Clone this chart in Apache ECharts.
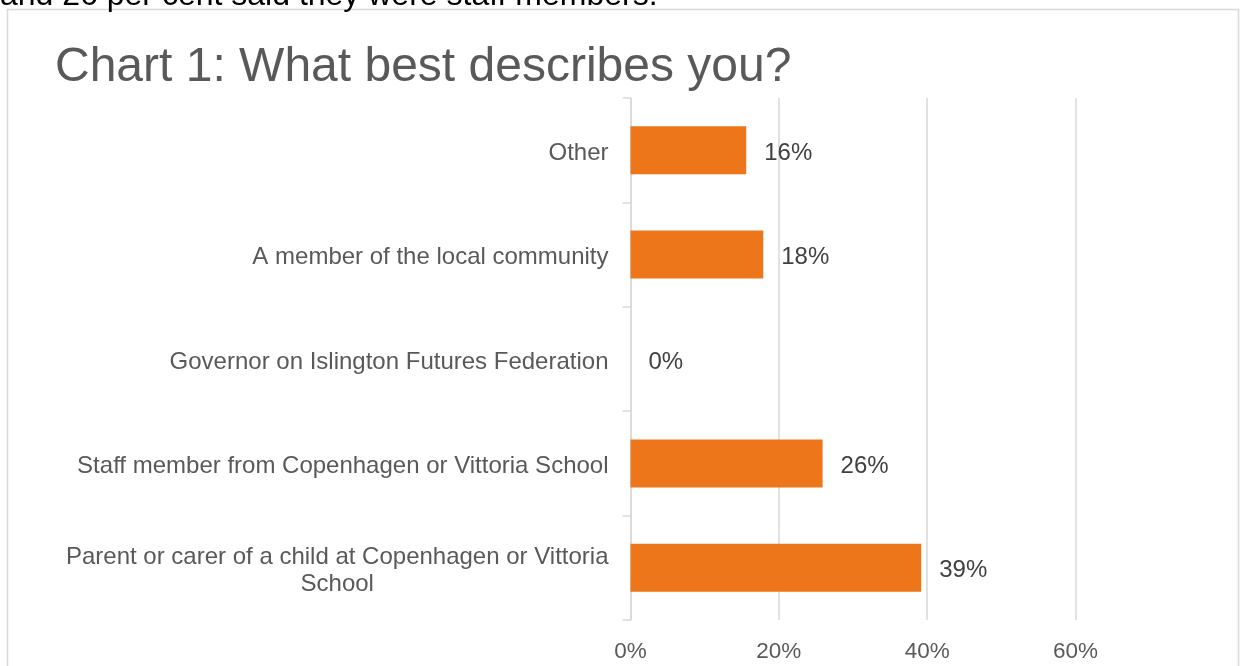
<!DOCTYPE html>
<html>
<head>
<meta charset="utf-8">
<script src="https://cdn.jsdelivr.net/npm/echarts@6/dist/echarts.min.js"></script>
<style>
html,body{margin:0;padding:0;background:#fff;}
#chart{width:1240px;height:666px;}
</style>
</head>
<body>
<div id="chart"></div>
<script>
// Data (top to bottom as shown)
const categories = [
  'Other',
  'A member of the local community',
  'Governor on Islington Futures Federation',
  'Staff member from Copenhagen or Vittoria School',
  'Parent or carer of a child at Copenhagen or Vittoria School'
];
const values = [0.156, 0.179, 0, 0.259, 0.392];
const xTicks = [0, 0.2, 0.4, 0.6];
const titleText = 'Chart 1: What best describes you?';
const introText = 'and 26 per cent said they were staff members.';

const FONT = '"Liberation Sans", Arial, sans-serif';
const chart = echarts.init(document.getElementById('chart'));

function wrapLabel(v) {
  if (v.length > 50) {
    const i = v.lastIndexOf(' ');
    return v.slice(0, i) + '\n' + v.slice(i + 1);
  }
  return v;
}

chart.setOption({
  animation: false,
  backgroundColor: '#ffffff',
  textStyle: { fontFamily: FONT },
  graphic: [
    {
      type: 'rect', silent: true,
      shape: { x: 7.5, y: 9.5, width: 1231, height: 700 },
      style: { fill: 'none', stroke: '#d9d9d9', lineWidth: 1.5 }
    },
    {
      type: 'text', silent: true, x: 0, y: -4,
      style: { text: introText, font: '32px ' + FONT, fill: '#000000', verticalAlign: 'middle', align: 'left' }
    },
    {
      type: 'text', silent: true, x: 55, y: 68,
      style: { text: titleText, font: '48px ' + FONT, fill: '#595959', verticalAlign: 'middle', align: 'left' }
    }
  ],
  grid: { left: 630.5, right: 164.5, top: 98, bottom: 46, containLabel: false },
  xAxis: {
    type: 'value', min: xTicks[0], max: xTicks[xTicks.length - 1], interval: 0.2,
    axisLine: { show: false },
    axisTick: { show: false },
    splitLine: { show: true, lineStyle: { color: '#d9d9d9', width: 1.5 } },
    axisLabel: {
      margin: 20, fontSize: 22.5, color: '#595959', fontFamily: FONT,
      formatter: v => Math.round(v * 100) + '%'
    }
  },
  yAxis: {
    type: 'category', data: categories, inverse: true,
    axisLine: { show: true, lineStyle: { color: '#d9d9d9', width: 1.5 } },
    axisTick: { show: true, length: 8, lineStyle: { color: '#d9d9d9', width: 1.5 } },
    axisLabel: {
      margin: 22, fontSize: 24, color: '#595959', fontFamily: FONT,
      formatter: v => '{c|' + wrapLabel(v) + '}',
      rich: { c: { align: 'center', fontSize: 24, color: '#595959', fontFamily: FONT, lineHeight: 27, padding: [6, 0, 0, 0] } }
    }
  },
  series: [{
    type: 'bar', data: values, barWidth: 48,
    itemStyle: { color: '#ED761B' },
    label: {
      show: true, position: 'right', distance: 18, offset: [0, 3],
      fontSize: 24, color: '#404040', fontFamily: FONT,
      formatter: p => Math.round(p.value * 100) + '%'
    }
  }]
});
</script>
</body>
</html>
